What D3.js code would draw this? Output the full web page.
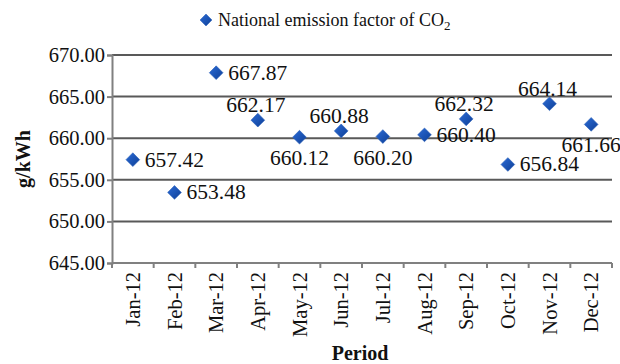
<!DOCTYPE html>
<html>
<head>
<meta charset="utf-8">
<script src="https://cdn.jsdelivr.net/npm/d3@7"></script>
<style>
  html, body { margin: 0; padding: 0; background: #fff; }
  svg { display: block; font-family: "Liberation Serif", "Times New Roman", serif; }
</style>
</head>
<body>
<svg id="chart" width="620" height="364"></svg>
<script>
// Monthly national CO2 emission factor, 2012
const months = ["Jan-12", "Feb-12", "Mar-12", "Apr-12", "May-12", "Jun-12",
                "Jul-12", "Aug-12", "Sep-12", "Oct-12", "Nov-12", "Dec-12"];
const emission = [657.42, 653.48, 667.87, 662.17, 660.12, 660.88,
                  660.20, 660.40, 662.32, 656.84, 664.14, 661.66];
// where each value label sits relative to its marker
const labelPos = ["right", "right", "right", "above", "below", "above",
                  "below", "right", "above", "right", "above", "below"];
const yTicks = [645, 650, 655, 660, 665, 670];

const svg = d3.select("#chart");
const margin = { left: 112, right: 8, top: 55, bottom: 101 };
const W = 620, H = 364;

const x = d3.scaleBand().domain(months).range([margin.left, W - margin.right]);
const y = d3.scaleLinear().domain([645, 670]).range([H - margin.bottom, margin.top]);

const gridColor = "#595959";
const axisColor = "#808080";
const serif = "Liberation Serif, serif";

// horizontal gridlines
svg.append("g").selectAll("line").data(yTicks.slice(1)).join("line")
  .attr("x1", margin.left).attr("x2", W - margin.right)
  .attr("y1", d => y(d)).attr("y2", d => y(d))
  .attr("stroke", gridColor).attr("stroke-width", 2);

// y axis
const yAxis = svg.append("g").attr("transform", `translate(${margin.left},0)`)
  .call(d3.axisLeft(y).tickValues(yTicks).tickFormat(d3.format(".2f")).tickSize(5).tickPadding(2));
yAxis.attr("font-family", serif);
yAxis.select(".domain").attr("stroke", axisColor).attr("stroke-width", 2);
yAxis.selectAll(".tick line").attr("stroke", axisColor).attr("stroke-width", 2);
yAxis.selectAll(".tick text").attr("font-size", 20.5).attr("fill", "#111");

// x axis with ticks at category boundaries
const xAxisG = svg.append("g").attr("transform", `translate(0,${y(645)})`);
xAxisG.append("line")
  .attr("x1", margin.left).attr("x2", W - margin.right)
  .attr("stroke", axisColor).attr("stroke-width", 2);
const bounds = months.map(m => x(m)).concat([x(months[months.length - 1]) + x.bandwidth()]);
xAxisG.selectAll("line.tk").data(bounds).join("line").attr("class", "tk")
  .attr("x1", d => d).attr("x2", d => d).attr("y1", 0).attr("y2", 5)
  .attr("stroke", axisColor).attr("stroke-width", 2);
xAxisG.selectAll("text").data(months).join("text")
  .attr("transform", d => `translate(${x(d) + x.bandwidth() / 2 + 7},9) rotate(-90)`)
  .attr("text-anchor", "end")
  .attr("font-size", 20.5).attr("fill", "#111")
  .text(d => d);

// axis titles
svg.append("text")
  .attr("transform", `translate(30,${(margin.top + H - margin.bottom) / 2}) rotate(-90)`)
  .attr("text-anchor", "middle").attr("font-size", 20).attr("font-weight", "bold")
  .attr("fill", "#111").text("g/kWh");
svg.append("text")
  .attr("x", (margin.left + W - margin.right) / 2 - 2).attr("y", 360)
  .attr("text-anchor", "middle").attr("font-size", 20).attr("font-weight", "bold")
  .attr("fill", "#111").text("Period");

// diamond marker
const diamond = d3.symbol().type(d3.symbolDiamond2).size(120);

const defs = svg.append("defs");
const grad = defs.append("linearGradient").attr("id", "mk")
  .attr("x1", "0").attr("y1", "0").attr("x2", "1").attr("y2", "1");
grad.append("stop").attr("offset", "0%").attr("stop-color", "#2b6bd6");
grad.append("stop").attr("offset", "100%").attr("stop-color", "#0e3f96");

// points
svg.append("g").selectAll("path").data(emission).join("path")
  .attr("d", diamond)
  .attr("transform", (d, i) => `translate(${x(months[i]) + x.bandwidth() / 2},${y(d)})`)
  .attr("fill", "url(#mk)").attr("stroke", "#2a60b8").attr("stroke-width", 0.6);

// value labels
svg.append("g").selectAll("text").data(emission).join("text")
  .each(function (d, i) {
    const cx = x(months[i]) + x.bandwidth() / 2, cy = y(d);
    const t = d3.select(this);
    if (labelPos[i] === "right") {
      t.attr("x", cx + 12).attr("y", cy + 7).attr("text-anchor", "start");
    } else if (labelPos[i] === "above") {
      t.attr("x", cx - 2).attr("y", cy - 8).attr("text-anchor", "middle");
    } else {
      t.attr("x", cx).attr("y", cy + 28).attr("text-anchor", "middle");
    }
  })
  .attr("font-size", 21.5).attr("fill", "#111")
  .text(d => d.toFixed(2));

// legend
const lg = svg.append("g").attr("transform", "translate(206,20)");
lg.append("path").attr("d", d3.symbol().type(d3.symbolDiamond2).size(90))
  .attr("fill", "url(#mk)").attr("stroke", "#2a60b8").attr("stroke-width", 0.6);
const lt = lg.append("text").attr("x", 12).attr("y", 6).attr("font-size", 18).attr("fill", "#111");
lt.append("tspan").text("National emission factor of CO");
lt.append("tspan").attr("font-size", 13).attr("dy", 4).text("2");
</script>
</body>
</html>
